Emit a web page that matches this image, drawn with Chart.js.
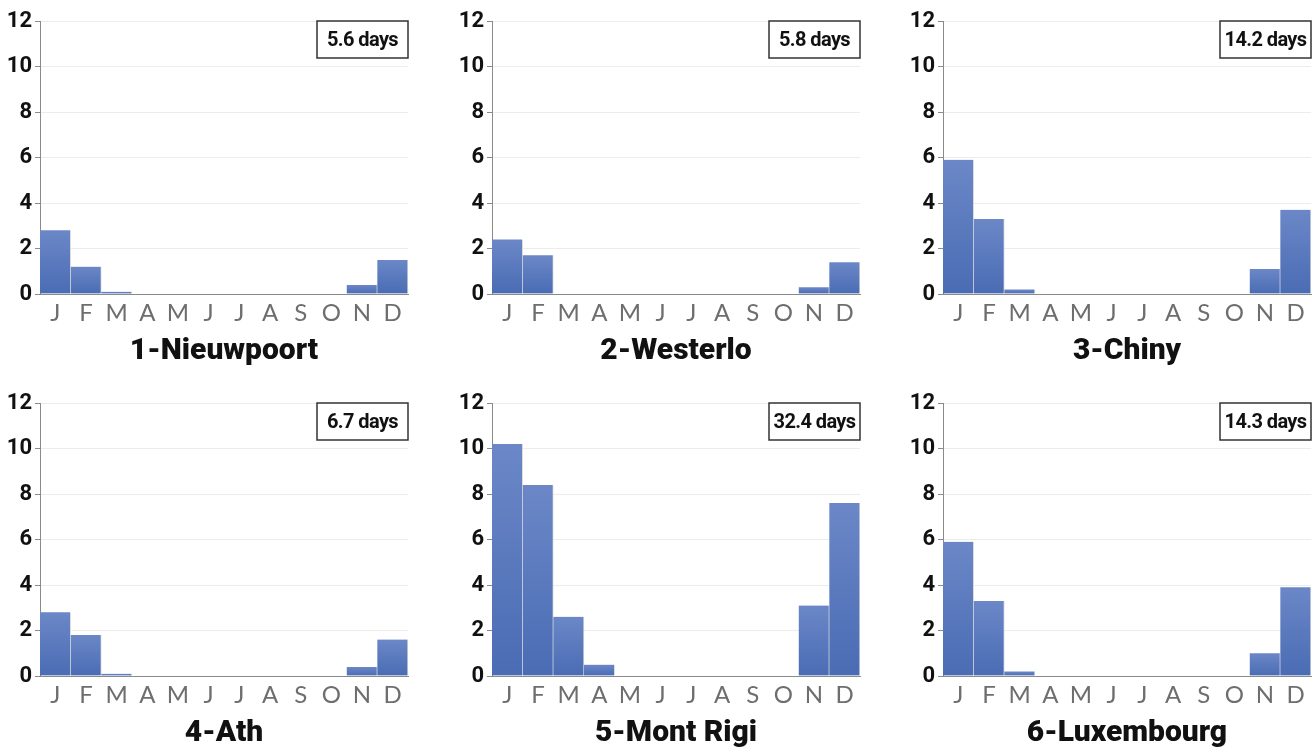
<!DOCTYPE html>
<html>
<head>
<meta charset="utf-8">
<script src="https://cdn.jsdelivr.net/npm/chart.js@4.4.0/dist/chart.umd.min.js"></script>
<style>
  html, body { margin: 0; padding: 0; background: #fff; overflow: hidden; }
  .panel { position: absolute; }
</style>
</head>
<body>
<div class="panel" style="left:0px;top:0px"><canvas id="c0" width="410" height="374"></canvas></div>
<div class="panel" style="left:452px;top:0px"><canvas id="c1" width="410" height="374"></canvas></div>
<div class="panel" style="left:903px;top:0px"><canvas id="c2" width="410" height="374"></canvas></div>
<div class="panel" style="left:0px;top:382px"><canvas id="c3" width="410" height="374"></canvas></div>
<div class="panel" style="left:452px;top:382px"><canvas id="c4" width="410" height="374"></canvas></div>
<div class="panel" style="left:903px;top:382px"><canvas id="c5" width="410" height="374"></canvas></div>
<script>
// months on the x axis
var months = ["J","F","M","A","M","J","J","A","S","O","N","D"];

// days per month
var nieuwpoort = [2.8, 1.2, 0.1, 0, 0, 0, 0, 0, 0, 0, 0.4, 1.5];
var westerlo   = [2.4, 1.7, 0, 0, 0, 0, 0, 0, 0, 0, 0.3, 1.4];
var chiny      = [5.9, 3.3, 0.2, 0, 0, 0, 0, 0, 0, 0, 1.1, 3.7];
var ath        = [2.8, 1.8, 0.1, 0, 0, 0, 0, 0, 0, 0, 0.4, 1.6];
var montRigi   = [10.2, 8.4, 2.6, 0.5, 0, 0, 0, 0, 0, 0, 3.1, 7.6];
var luxembourg = [5.9, 3.3, 0.2, 0, 0, 0, 0, 0, 0, 0, 1.0, 3.9];

var stations = ["1-Nieuwpoort", "2-Westerlo", "3-Chiny", "4-Ath", "5-Mont Rigi", "6-Luxembourg"];
var totals = ["5.6 days", "5.8 days", "14.2 days", "6.7 days", "32.4 days", "14.3 days"];
var series = [nieuwpoort, westerlo, chiny, ath, montRigi, luxembourg];

var yTicks = [0, 2, 4, 6, 8, 10, 12];

// small boxed total in the top right corner
var totalBox = {
  id: "totalBox",
  afterDraw: function(chart, args, opts) {
    var ctx = chart.ctx;
    var a = chart.chartArea;
    var w = 91, h = 37;
    var x = a.right - w, y = a.top;
    ctx.save();
    ctx.fillStyle = "#fff";
    ctx.fillRect(x, y, w, h);
    ctx.strokeStyle = "#333";
    ctx.lineWidth = 1.5;
    ctx.strokeRect(x, y, w, h);
    ctx.fillStyle = "#111";
    ctx.font = "bold 20px Roboto, sans-serif";
    ctx.letterSpacing = "-0.6px";
    ctx.textAlign = "center";
    ctx.textBaseline = "middle";
    ctx.fillText(opts.text, x + w / 2, y + h / 2 + 1);
    ctx.restore();
  }
};

function barFill(context) {
  var chart = context.chart;
  var area = chart.chartArea;
  if (!area) return "#5a78be";
  var v = context.raw || 0;
  var top = chart.scales.y.getPixelForValue(v);
  var bottom = chart.scales.y.getPixelForValue(0);
  if (bottom - top < 1) return "#5a78be";
  var g = chart.ctx.createLinearGradient(0, top, 0, bottom);
  g.addColorStop(0, "#6b87c7");
  g.addColorStop(1, "#4a6cb4");
  return g;
}

for (let i = 0; i < series.length; i++) {
  new Chart(document.getElementById("c" + i), {
    type: "bar",
    data: {
      labels: months,
      datasets: [{
        data: series[i],
        backgroundColor: barFill,
        borderColor: "#dcdcdc",
        borderWidth: {left: 0, right: 1, top: 0, bottom: 0},
        categoryPercentage: 1,
        barPercentage: 1
      }]
    },
    options: {
      responsive: false,
      animation: false,
      layout: { padding: { top: 21, right: 2, left: 0, bottom: 0 } },
      plugins: {
        legend: { display: false },
        tooltip: { enabled: false },
        title: {
          display: true,
          text: stations[i],
          position: "bottom",
          fullSize: false,
          color: "#111",
          font: { family: "Roboto, 'DejaVu Sans', sans-serif", size: 30, weight: 900 },
          padding: { top: 3, bottom: 5 }
        },
        totalBox: { text: totals[i] }
      },
      scales: {
        x: {
          grid: { display: false, drawTicks: false },
          border: { display: true, color: "#8a8a8a", width: 1 },
          ticks: {
            color: "#6e6e6e",
            padding: 5,
            maxRotation: 0,
            autoSkip: false,
            font: { family: "Lato, sans-serif", size: 24, weight: 400 }
          },
          afterFit: function(scale) { scale.height = 36; }
        },
        y: {
          min: 0,
          max: 12,
          afterBuildTicks: function(scale) {
            scale.ticks = yTicks.map(function(v) { return { value: v }; });
          },
          grid: { color: "#ececec", tickColor: "#8a8a8a", tickLength: 5 },
          border: { display: true, color: "#8a8a8a", width: 1 },
          ticks: {
            color: "#111",
            padding: 3,
            font: { family: "Roboto, sans-serif", size: 22, weight: 700 }
          },
          afterFit: function(scale) { scale.width = 40; }
        }
      }
    },
    plugins: [totalBox]
  });
}
</script>
</body>
</html>
